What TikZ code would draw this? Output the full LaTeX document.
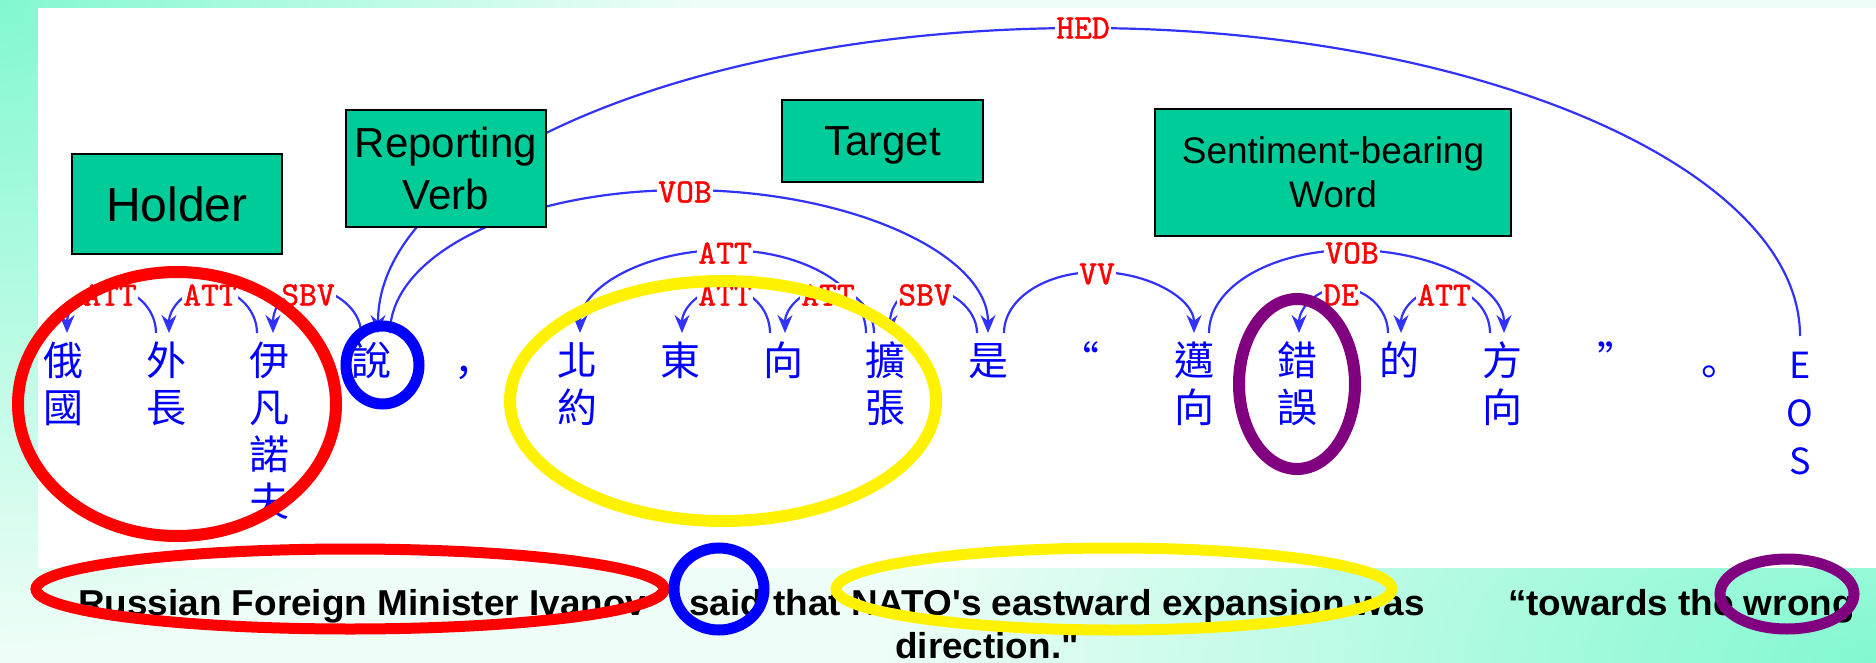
\documentclass[tikz,border=0pt]{standalone}
\usepackage{fontspec}
\usepackage{graphicx}
\usetikzlibrary{arrows.meta}
\newfontfamily\cjktc{Noto Sans CJK TC}
\newfontfamily\cjksc{Noto Sans CJK SC}
\newfontfamily\arial{Liberation Sans}
\newfontfamily\relfont{lmmono10-regular}[Extension=.otf, FakeBold=1.2]
\definecolor{aqua}{RGB}{130,248,208}
\definecolor{mint}{RGB}{238,253,247}
\definecolor{boxgreen}{RGB}{0,204,153}
\definecolor{arcblue}{RGB}{50,50,255}
\definecolor{ringpurple}{RGB}{128,0,128}
% strut that fixes the first baseline of every word column
\newcommand\colstrut{\rule{0pt}{34pt}}
% dependency arc: arrow spec, left end, apex, right end, horizontal and vertical control lengths
\newcommand\deparc[6]{\draw[depline,#1] (#2) .. controls +(0,-#6) and +(-#5,0) .. (#3)
  .. controls +(#5,0) and +(0,-#6) .. (#4);}
\pgfdeclarelayer{back}
\pgfdeclarelayer{links}
\pgfsetlayers{back,links,main}
\begin{document}
\begin{tikzpicture}[x=1pt,y=-1pt,
  >={Stealth[length=18pt,width=15pt,inset=6pt]},
  word/.style={anchor=north, inner sep=0pt, align=center, text=blue,
    font=\cjktc\fontsize{40}{47}\selectfont},
  punct/.style={word, font=\cjksc\fontsize{40}{47}\selectfont},
  lbl/.style={text=red, fill=white, inner sep=1pt,
    font=\relfont\fontsize{34}{34}\selectfont},
  depline/.style={draw=arcblue, line width=2.2pt},
  tagbox/.style={draw=black, line width=2pt, fill=boxgreen, inner sep=0pt,
    align=center, text=black},
  capt/.style={font=\arial\bfseries\fontsize{36}{44}\selectfont, inner sep=0pt},
  ring/.style={line width=12pt}]
\useasboundingbox (0,0) rectangle (1876,663);

% slide background and white panel
\begin{pgfonlayer}{back}
  \fill[mint] (0,0) rectangle (1876,663);
  \begin{scope}
    \clip (0,0) rectangle (1876,663);
    \shade[inner color=aqua, outer color=mint] (0,0) ellipse [x radius=700pt, y radius=650pt];
    \shade[inner color=aqua, outer color=mint] (1876,663) ellipse [x radius=1000pt, y radius=520pt];
  \end{scope}
  \fill[white] (38,8) rectangle (1876,568);
\end{pgfonlayer}

% words of the parsed sentence
\node[word]  (w0)  at (63,341)   {\colstrut 俄\\國};
\node[word]  (w1)  at (166,341)  {\colstrut 外\\長};
\node[word]  (w2)  at (269,341)  {\colstrut 伊\\凡\\諾\\夫};
\node[word]  (w3)  at (371,341)  {\colstrut 說};
\node[punct] (w4)  at (474,341)  {\colstrut ，};
\node[word]  (w5)  at (577,341)  {\colstrut 北\\約};
\node[word]  (w6)  at (680,341)  {\colstrut 東};
\node[word]  (w7)  at (783,341)  {\colstrut 向};
\node[word]  (w8)  at (885,341)  {\colstrut 擴\\張};
\node[word]  (w9)  at (988,341)  {\colstrut 是};
\node[punct] (w10) at (1079,341) {\colstrut “};
\node[word]  (w11) at (1194,341) {\colstrut 邁\\向};
\node[word]  (w12) at (1297,341) {\colstrut 錯\\誤};
\node[word]  (w13) at (1399,341) {\colstrut 的};
\node[word]  (w14) at (1502,341) {\colstrut 方\\向};
\node[punct] (w15) at (1617,341) {\colstrut ”};
\node[punct] (w16) at (1721,341) {\colstrut 。};
\node[word, font=\cjktc\fontsize{36}{48}\selectfont] (w17) at (1800,344) {\colstrut E\\O\\S};
\foreach \i in {0,...,17} {\coordinate (t\i) at ([yshift=8pt]w\i.north);}

% relation labels
\node[lbl] (l1)  at (110,295)  {ATT};
\node[lbl] (l2)  at (210,295)  {ATT};
\node[lbl] (l3)  at (308,295)  {SBV};
\node[lbl] (l4)  at (725,295)  {ATT};
\node[lbl] (l5)  at (828,295)  {ATT};
\node[lbl] (l6)  at (925,295)  {SBV};
\node[lbl] (l7)  at (1341,295) {DE};
\node[lbl] (l8)  at (1444,295) {ATT};
\node[lbl] (l9)  at (725,253)  {ATT};
\node[lbl] (l10) at (1097,274) {VV};
\node[lbl] (l11) at (1352,253) {VOB};
\node[lbl] (l12) at (685,192)  {VOB};
\node[lbl] (l13) at (1083,28)  {HED};

% dependency arcs (arrow at the dependent word)
\begin{pgfonlayer}{links}
  \deparc{<-}{[xshift=4pt]t0}{[yshift=7pt]l1.center}{[xshift=-10pt]t1}{24}{25}
  \deparc{<-}{[xshift=3pt]t1}{[yshift=7pt]l2.center}{[xshift=-12pt]t2}{24}{25}
  \deparc{<-}{[xshift=4pt]t2}{[yshift=7pt]l3.center}{[xshift=-10pt]t3}{24}{25}
  \deparc{<-}{[xshift=2pt]t6}{[yshift=7pt]l4.center}{[xshift=-13pt]t7}{24}{25}
  \deparc{<-}{[xshift=2pt]t7}{[yshift=7pt]l5.center}{[xshift=-11pt]t8}{24}{25}
  \deparc{<-}{[xshift=5pt]t8}{[yshift=7pt]l6.center}{[xshift=-11pt]t9}{24}{25}
  \deparc{<-}{[xshift=2pt]t12}{[yshift=7pt]l7.center}{[xshift=-11pt]t13}{24}{25}
  \deparc{<-}{[xshift=2pt]t13}{[yshift=7pt]l8.center}{[xshift=-12pt]t14}{24}{25}
  \deparc{<-}{[xshift=3pt]t5}{[yshift=3pt]l9.center}{[xshift=-19pt]t8}{79}{46}
  \deparc{->}{[xshift=16pt]t9}{[yshift=2pt]l10.center}{t11}{52}{34}
  \deparc{->}{[xshift=15pt]t11}{[yshift=3pt]l11.center}{[xshift=2pt]t14}{81}{46}
  \deparc{->}{[xshift=19pt]t3}{[yshift=2pt]l12.center}{t9}{165}{79}
  \deparc{<-}{[xshift=7pt]t3}{l13.center}{t17}{393}{168}
\end{pgfonlayer}

% role boxes
\node[tagbox, minimum width=210pt, minimum height=100pt,
  font=\arial\fontsize{48}{56}\selectfont] (b1) at (177,204) {Holder};
\node[tagbox, minimum width=200pt, minimum height=117pt,
  font=\arial\fontsize{42}{52}\selectfont] (b2) at (446,168.5) {Reporting\\Verb};
\node[tagbox, minimum width=201pt, minimum height=82pt, text depth=0pt,
  font=\arial\fontsize{42}{52}\selectfont] (b3) at (882.5,141) {Target};
\node[tagbox, minimum width=356pt, minimum height=127pt,
  font=\arial\fontsize{37}{44}\selectfont] (b4) at (1333,172.5) {Sentiment-bearing\\Word};

% English sentence
\node[capt, anchor=base west] (c1) at (78,615)  {\scalebox{1.025}[1]{Russian Foreign Minister Ivanov}};
\node[capt, anchor=base west] (c2) at (689,615) {\scalebox{1.025}[1]{said that NATO's eastward expansion was}};
\node[capt, anchor=base west] (c3) at (1508,615) {\scalebox{1.025}[1]{“towards the wrong}};
\node[capt, anchor=base] (c4) at (987,658) {\scalebox{1.025}[1]{direction."}};

% highlighting rings
\draw[ring, red]        (177,404)   ellipse [x radius=159pt, y radius=132pt];
\draw[ring, blue, line width=11pt] (382.5,365) ellipse [x radius=36.5pt, y radius=39pt];
\draw[ring, yellow]     (723,401)   ellipse [x radius=213pt, y radius=120pt];
\draw[ring, ringpurple] (1297,384)  ellipse [x radius=58pt, y radius=85pt];
\draw[ring, red, line width=11pt]  (350,589)  ellipse [x radius=314pt, y radius=40pt];
\draw[ring, blue, line width=11pt] (719,589)  ellipse [x radius=45pt, y radius=41pt];
\draw[ring, yellow, line width=11pt] (1114,589) ellipse [x radius=278pt, y radius=41pt];
\draw[ring, ringpurple, line width=11pt] (1787,594) ellipse [x radius=67pt, y radius=35pt];
\end{tikzpicture}
\end{document}
